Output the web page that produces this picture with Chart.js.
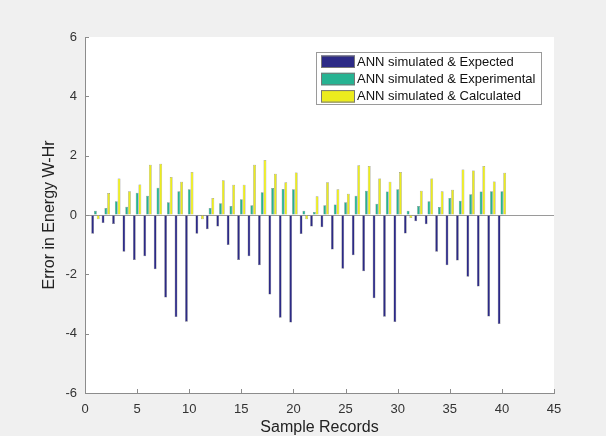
<!DOCTYPE html>
<html>
<head>
<meta charset="utf-8">
<script src="https://cdn.jsdelivr.net/npm/chart.js@4.4.0/dist/chart.umd.min.js"></script>
<style>
  html, body { margin: 0; padding: 0; background: #f0f0f0; }
  #wrap { width: 606px; height: 436px; }
</style>
</head>
<body>
<div id="wrap"><canvas id="errores" width="606" height="436"></canvas></div>
<script>
var records = [1, 2, 3, 4, 5, 6, 7, 8, 9, 10, 11, 12, 13, 14, 15, 16, 17, 18, 19, 20,
  21, 22, 23, 24, 25, 26, 27, 28, 29, 30, 31, 32, 33, 34, 35, 36, 37, 38, 39, 40]

var expected = [-0.63, -0.27, -0.30, -1.24, -1.52, -1.39, -1.83, -2.78, -3.44, -3.60,
  -0.63, -0.48, -0.39, -1.01, -1.52, -1.39, -1.69, -2.68, -3.46, -3.62,
  -0.64, -0.39, -0.41, -1.16, -1.81, -1.36, -1.90, -2.81, -3.43, -3.61,
  -0.62, -0.21, -0.31, -1.24, -1.69, -1.53, -2.08, -2.41, -3.42, -3.67]

var experimental = [0.14, 0.24, 0.46, 0.28, 0.75, 0.65, 0.92, 0.43, 0.80, 0.87,
  0.00, 0.24, 0.40, 0.30, 0.53, 0.33, 0.77, 0.91, 0.88, 0.87,
  0.14, 0.10, 0.33, 0.35, 0.43, 0.65, 0.82, 0.38, 0.79, 0.87,
  0.14, 0.30, 0.46, 0.27, 0.57, 0.48, 0.70, 0.79, 0.80, 0.80]

var calculated = [-0.14, 0.74, 1.23, 0.80, 1.03, 1.69, 1.73, 1.28, 1.12, 1.45,
  -0.14, 0.57, 1.17, 1.02, 1.02, 1.69, 1.85, 1.39, 1.10, 1.43,
  -0.14, 0.63, 1.10, 0.87, 0.72, 1.68, 1.65, 1.23, 1.12, 1.45,
  -0.10, 0.82, 1.23, 0.80, 0.85, 1.53, 1.50, 1.65, 1.13, 1.42]

var seriesNames = ["ANN simulated & Expected", "ANN simulated & Experimental", "ANN simulated & Calculated"]
var seriesColors = ["#2c2a86", "#25b392", "#ecec1e"]

var xTicks = [0, 5, 10, 15, 20, 25, 30, 35, 40, 45]
var yTicks = [-6, -4, -2, 0, 2, 4, 6]

var fontFam = "'Liberation Sans', Arial, Helvetica, sans-serif"
var axisGray = "#8c8c8c"

function puntos(vals) {
  return vals.map(function (v, i) { return { x: records[i], y: v } })
}

function serie(i, vals) {
  return {
    label: seriesNames[i],
    data: puntos(vals),
    backgroundColor: seriesColors[i],
    borderColor: "rgba(30, 30, 30, 0.6)",
    borderWidth: 0.5,
    categoryPercentage: 0.8,
    barPercentage: 1
  }
}

// grey figure background with the white axes box
var fondo = {
  id: "fondo",
  beforeDraw: function (chart) {
    var ctx = chart.ctx
    var a = chart.chartArea
    ctx.save()
    ctx.fillStyle = "#f0f0f0"
    ctx.fillRect(0, 0, chart.width, chart.height)
    ctx.fillStyle = "#ffffff"
    ctx.fillRect(a.left, a.top, a.right - a.left, a.bottom - a.top)
    ctx.restore()
  }
}

// small tick marks pointing into the plot
var marcas = {
  id: "marcas",
  afterDraw: function (chart) {
    var ctx = chart.ctx
    var a = chart.chartArea
    var sx = chart.scales.x
    var sy = chart.scales.y
    ctx.save()
    ctx.strokeStyle = axisGray
    ctx.lineWidth = 1
    ctx.beginPath()
    yTicks.forEach(function (t) {
      var py = Math.round(sy.getPixelForValue(t)) + 0.5
      ctx.moveTo(a.left, py)
      ctx.lineTo(a.left + 4, py)
    })
    xTicks.forEach(function (t) {
      var px = Math.round(sx.getPixelForValue(t)) + 0.5
      ctx.moveTo(px, a.bottom)
      ctx.lineTo(px, a.bottom - 4)
    })
    ctx.stroke()
    ctx.restore()
  }
}

// boxed legend in the upper right corner
var leyenda = {
  id: "leyenda",
  afterDraw: function (chart) {
    var ctx = chart.ctx
    var bx = 316, by = 52, bw = 225, bh = 52
    ctx.save()
    ctx.fillStyle = "#ffffff"
    ctx.fillRect(bx, by, bw, bh)
    ctx.strokeStyle = "#9a9a9a"
    ctx.lineWidth = 1
    ctx.strokeRect(bx + 0.5, by + 0.5, bw, bh)
    ctx.font = "13px " + fontFam
    ctx.textBaseline = "middle"
    ctx.textAlign = "left"
    chart.data.datasets.forEach(function (ds, i) {
      var cy = 61.5 + i * 17.3
      ctx.fillStyle = ds.backgroundColor
      ctx.fillRect(bx + 5, cy - 6, 34, 12.5)
      ctx.strokeStyle = "#777"
      ctx.strokeRect(bx + 5.5, cy - 5.5, 33, 11.5)
      ctx.fillStyle = "#111"
      ctx.fillText(ds.label, bx + 41, cy + 0.5)
    })
    ctx.restore()
  }
}

var errChart = new Chart(document.getElementById("errores"), {
  type: "bar",
  data: {
    datasets: [serie(0, expected), serie(1, experimental), serie(2, calculated)]
  },
  options: {
    responsive: false,
    animation: false,
    events: [],
    layout: { padding: { top: 37, right: 52, left: 0, bottom: 0 } },
    plugins: {
      legend: { display: false },
      tooltip: { enabled: false }
    },
    scales: {
      x: {
        type: "linear",
        offset: false,
        min: 0,
        max: 45,
        afterFit: function (s) { s.height = 43 },
        afterBuildTicks: function (s) { s.ticks = xTicks.map(function (v) { return { value: v } }) },
        grid: { display: false, drawTicks: false, offset: false },
        border: { display: true, color: axisGray },
        ticks: {
          padding: 9,
          color: "#333",
          maxRotation: 0,
          autoSkip: false,
          font: { family: fontFam, size: 13 }
        },
        title: {
          display: true,
          text: "Sample Records",
          color: "#222",
          padding: 0,
          font: { family: fontFam, size: 16, lineHeight: 1 }
        }
      },
      y: {
        min: -6,
        max: 6,
        afterFit: function (s) { s.width = 85 },
        afterBuildTicks: function (s) { s.ticks = yTicks.map(function (v) { return { value: v } }) },
        grid: {
          drawTicks: false,
          color: function (c) { return c.tick && c.tick.value === 0 ? "#9a9a9a" : "rgba(0,0,0,0)" }
        },
        border: { display: true, color: axisGray },
        ticks: {
          padding: 8,
          color: "#333",
          font: { family: fontFam, size: 13 }
        },
        title: {
          display: true,
          text: "Error in Energy W-Hr",
          color: "#222",
          padding: { top: 42, bottom: 0 },
          font: { family: fontFam, size: 16, lineHeight: 1 }
        }
      }
    }
  },
  plugins: [fondo, marcas, leyenda]
})
</script>
</body>
</html>
